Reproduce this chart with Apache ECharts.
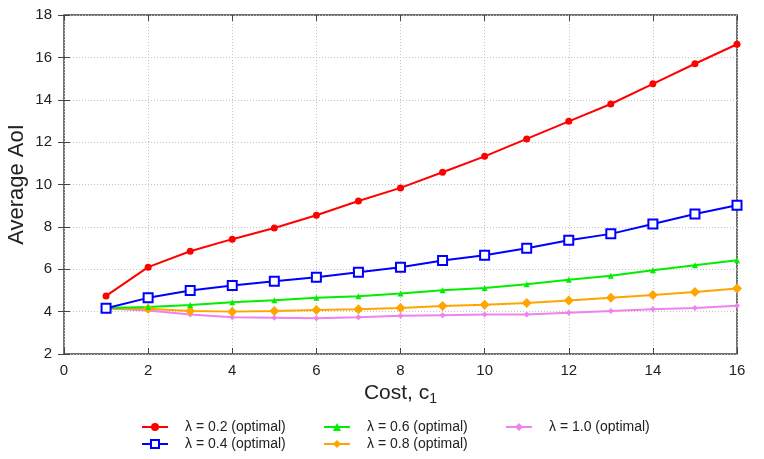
<!DOCTYPE html>
<html>
<head>
<meta charset="utf-8">
<style>
  html, body { margin: 0; padding: 0; background: #fff; }
  #chart { width: 764px; height: 459px; }
</style>
<script src="https://cdn.jsdelivr.net/npm/echarts@6/dist/echarts.min.js"></script>
</head>
<body>
<div id="chart"></div>
<script>
// cost values c1 on the x axis
const costs = [1, 2, 3, 4, 5, 6, 7, 8, 9, 10, 11, 12, 13, 14, 15, 16];

// average AoI, one list per lambda
const lambda02 = [4.74, 6.10, 6.85, 7.42, 7.95, 8.55, 9.22, 9.84, 10.58, 11.33, 12.15, 12.98, 13.80, 14.75, 15.70, 16.62];
const lambda04 = [4.16, 4.65, 5.00, 5.23, 5.43, 5.62, 5.86, 6.09, 6.41, 6.66, 6.99, 7.37, 7.67, 8.14, 8.61, 9.02];
const lambda06 = [4.17, 4.22, 4.31, 4.44, 4.54, 4.65, 4.72, 4.86, 5.01, 5.12, 5.29, 5.50, 5.69, 5.95, 6.19, 6.43];
const lambda08 = [4.15, 4.13, 4.03, 4.00, 4.03, 4.08, 4.11, 4.17, 4.27, 4.33, 4.41, 4.52, 4.65, 4.79, 4.93, 5.09];
const lambda10 = [4.15, 4.05, 3.86, 3.73, 3.71, 3.69, 3.73, 3.80, 3.83, 3.86, 3.87, 3.95, 4.03, 4.11, 4.17, 4.28];

const seriesNames = [
  "\u03bb = 0.2 (optimal)",
  "\u03bb = 0.4 (optimal)",
  "\u03bb = 0.6 (optimal)",
  "\u03bb = 0.8 (optimal)",
  "\u03bb = 1.0 (optimal)"
];

const xTicks = [0, 2, 4, 6, 8, 10, 12, 14, 16];
const yTicks = [2, 4, 6, 8, 10, 12, 14, 16, 18];

const font = "Liberation Sans";

function pairs(values) {
  return costs.map((c, i) => [c, values[i]]);
}

function makeSeries(name, values, color, symbol, size, extra) {
  return Object.assign({
    name: name,
    type: "line",
    data: pairs(values),
    symbol: symbol,
    symbolSize: size,
    lineStyle: { color: color, width: 2 },
    itemStyle: { color: color },
    xAxisIndex: 0,
    yAxisIndex: 0,
    z: 3
  }, extra || {});
}

const series = [
  makeSeries(seriesNames[4], lambda10, "#ee82ee", "diamond", 6),
  makeSeries(seriesNames[3], lambda08, "#ffa500", "diamond", 10),
  makeSeries(seriesNames[2], lambda06, "#00ee00", "triangle", 6),
  makeSeries(seriesNames[1], lambda04, "#0000ff", "rect", 9, {
    itemStyle: { color: "#fff", borderColor: "#0000ff", borderWidth: 2 }
  }),
  makeSeries(seriesNames[0], lambda02, "#ff0000", "circle", 7)
];

const gridLine = { show: true, lineStyle: { color: "#c4c4c4", type: [1, 2], width: 1 } };

function legendAt(left, names) {
  return {
    orient: "vertical",
    left: left,
    top: 420,
    height: 40,
    padding: 0,
    itemWidth: 26,
    itemHeight: 10,
    itemGap: 3,
    data: names,
    textStyle: { fontFamily: font, fontSize: 14, color: "#222", padding: [0, 0, 0, 12] }
  };
}

const chart = echarts.init(document.getElementById("chart"));
chart.setOption({
  animation: false,
  backgroundColor: "#fff",
  grid: {
    left: 64, right: 27, top: 15, bottom: 105,
    containLabel: false, outerBoundsMode: "none",
    show: true, borderColor: "#444", borderWidth: 1.5, backgroundColor: "transparent"
  },
  legend: [
    legendAt(141, [seriesNames[0], seriesNames[1]]),
    legendAt(323, [seriesNames[2], seriesNames[3]]),
    legendAt(505, [seriesNames[4]])
  ],
  xAxis: [{
    type: "value",
    min: xTicks[0], max: xTicks[xTicks.length - 1], interval: 2,
    axisLine: { show: false },
    axisTick: { show: true, inside: true, length: 6, lineStyle: { color: "#444" } },
    axisLabel: { fontFamily: font, fontSize: 15, color: "#222", margin: 9 },
    splitLine: gridLine,
    name: "{a|Cost, c}{s|1}",
    nameLocation: "middle",
    nameGap: 17,
    nameTextStyle: {
      rich: {
        a: { fontFamily: font, fontSize: 21, color: "#222" },
        s: { fontFamily: font, fontSize: 14, color: "#222", verticalAlign: "bottom", padding: [12, 0, 0, 0] }
      }
    }
  }, {
    type: "value", position: "top",
    min: xTicks[0], max: xTicks[xTicks.length - 1], interval: 2,
    axisLine: { show: false },
    axisTick: { show: true, inside: true, length: 6, lineStyle: { color: "#444" } },
    axisLabel: { show: false },
    splitLine: { show: false }
  }],
  yAxis: [{
    type: "value",
    min: yTicks[0], max: yTicks[yTicks.length - 1], interval: 2,
    axisLine: { show: false },
    axisTick: { show: true, inside: true, length: 6, lineStyle: { color: "#444" } },
    axisLabel: { fontFamily: font, fontSize: 15, color: "#222", margin: 12 },
    splitLine: gridLine,
    name: "Average AoI",
    nameLocation: "middle",
    nameGap: 36,
    nameMoveOverlap: false,
    nameTextStyle: { fontFamily: font, fontSize: 22, color: "#222" }
  }, {
    type: "value", position: "right",
    min: yTicks[0], max: yTicks[yTicks.length - 1], interval: 2,
    axisLine: { show: false },
    axisTick: { show: true, inside: true, length: 6, lineStyle: { color: "#444" } },
    axisLabel: { show: false },
    splitLine: { show: false }
  }],
  series: series
});
</script>
</body>
</html>
